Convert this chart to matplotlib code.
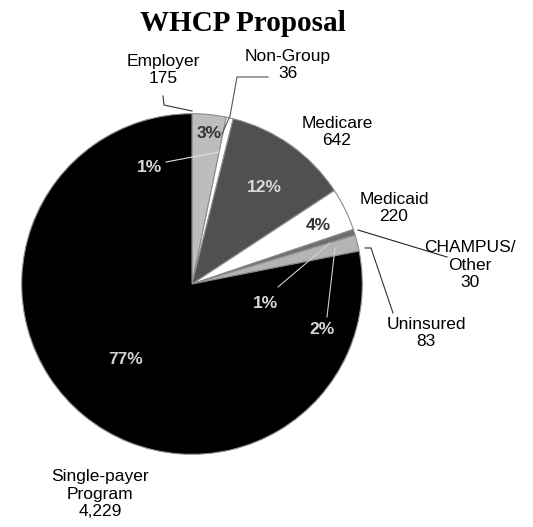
import matplotlib.pyplot as plt
from matplotlib.lines import Line2D

# data
categories = ["Employer", "Non-Group", "Medicare", "Medicaid",
              "CHAMPUS/\nOther", "Uninsured", "Single-payer\nProgram"]
values = [175, 36, 642, 220, 30, 83, 4229]
value_labels = ["175", "36", "642", "220", "30", "83", "4,229"]
pct_labels = ["3%", "1%", "12%", "4%", "1%", "2%", "77%"]

colors = ["#bdbdbd", "#ffffff", "#505050", "#ffffff", "#6e6e6e", "#b4b4b4", "#000000"]

W, H = 533, 527
fig = plt.figure(figsize=(W / 100, H / 100), dpi=100)


def px(x, y):
    # pixel position (from top-left) -> figure fraction
    return x / W, 1 - y / H


# pie centre ~ (192, 284) px, radius ~172 px
cx, cy, r = 192, 284, 172
ax = fig.add_axes([(cx - r) / W, (H - cy - r) / H, 2 * r / W, 2 * r / H])
ax.pie(values, colors=colors, startangle=90, counterclock=False, radius=1,
       wedgeprops=dict(edgecolor="#8c8c8c", linewidth=0.8))
ax.set_xlim(-1.01, 1.01)
ax.set_ylim(-1.01, 1.01)
ax.set_aspect("equal")
ax.axis("off")

fig.text(*px(243, 31), "WHCP Proposal", ha="center", va="baseline",
         family="Liberation Serif", fontweight="bold", fontsize=21)

# category labels around the pie
label_pos = [(163, 70), (288, 65), (337, 132), (394, 208),
             (470, 265), (426, 333), (100, 494)]
for name, val, (x, y) in zip(categories, value_labels, label_pos):
    fig.text(*px(x, y), f"{name}\n{val}", ha="center", va="center",
             family="Liberation Sans", fontsize=12.5, linespacing=1.22)

# percentage labels on / near slices
pct_pos = [(209, 133), (149, 167), (264, 188), (318, 226),
           (265, 303), (322, 330), (126, 360)]
pct_colors = ["#333333", "#d8d8d8", "#d8d8d8", "#333333",
              "#d8d8d8", "#d8d8d8", "#d0d0d0"]
for txt, (x, y), c in zip(pct_labels, pct_pos, pct_colors):
    fig.text(*px(x, y), txt, ha="center", va="center", color=c,
             family="Liberation Sans", fontweight="bold", fontsize=12.5)

# leader lines (pixel paths)
leaders = [
    ([(163, 96), (164, 105), (192, 111)], "#333333"),
    ([(268, 77), (237, 77), (230, 116), (222, 134)], "#555555"),
    ([(358, 230), (447, 257)], "#222222"),
    ([(365, 248), (371, 248), (393, 313)], "#333333"),
    ([(166, 162), (219, 152)], "#e0e0e0"),
    ([(278, 287), (330, 243)], "#cfcfcf"),
    ([(327, 317), (335, 248)], "#cfcfcf"),
]
for pts, c in leaders:
    xs = [px(*p)[0] for p in pts]
    ys = [px(*p)[1] for p in pts]
    fig.add_artist(Line2D(xs, ys, transform=fig.transFigure, color=c, lw=0.8))

fig.savefig("out.png", dpi=100)
